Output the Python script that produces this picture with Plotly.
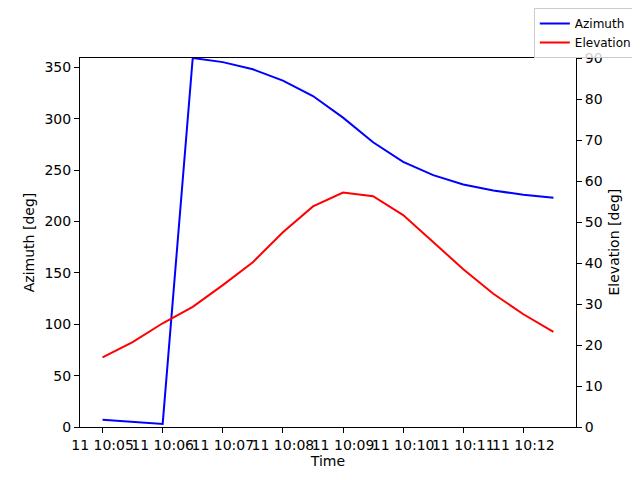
import pandas as pd
import plotly.graph_objects as go

# time samples every 30 s
times = pd.date_range("2024-01-11 10:05:00", periods=16, freq="30s")
azimuth = [7, 5, 3, 359, 355, 348, 337, 322, 301, 277, 258, 245, 236, 230, 226, 223]
elevation = [17.0, 20.7, 25.3, 29.3, 34.6, 40.2, 47.5, 53.8, 57.2, 56.3, 51.7, 45.2, 38.5, 32.5, 27.5, 23.2]

x_ticks = pd.date_range("2024-01-11 10:05:00", periods=8, freq="1min")
az_ticks = [0, 50, 100, 150, 200, 250, 300, 350]
el_ticks = [0, 10, 20, 30, 40, 50, 60, 70, 80, 90]

fig = go.Figure()
fig.add_trace(go.Scatter(x=times, y=azimuth, mode="lines", name="Azimuth",
                         line=dict(color="blue", width=2)))
fig.add_trace(go.Scatter(x=times, y=elevation, mode="lines", name="Elevation",
                         line=dict(color="red", width=2), yaxis="y2"))

axis_style = dict(showgrid=False, zeroline=False, showline=True, linecolor="black",
                  linewidth=1, ticks="outside", ticklen=5, tickcolor="black",
                  tickangle=0, tickfont=dict(size=14, color="black"))

span = times[-1] - times[0]
# page body has an 8px margin, so the figure is drawn 8px smaller
fig.update_layout(
    width=632,
    height=472,
    margin=dict(l=72, r=64, t=50, b=53, autoexpand=False),
    paper_bgcolor="white",
    plot_bgcolor="white",
    font=dict(family="DejaVu Sans", size=14, color="black"),
    xaxis=dict(
        axis_style,
        range=[times[0] - span * 0.05, times[-1] + span * 0.05],
        tickvals=x_ticks,
        tickformat="%d %H:%M",
        mirror=True,
        title=dict(text="Time", standoff=4, font=dict(size=14)),
    ),
    yaxis=dict(
        axis_style,
        range=[0, 359],
        tickvals=az_ticks,
        title=dict(text="Azimuth [deg]", standoff=6, font=dict(size=14)),
    ),
    yaxis2=dict(
        axis_style,
        range=[0, 90],
        tickvals=el_ticks,
        overlaying="y",
        side="right",
    ),
    legend=dict(
        xref="container", yref="container",
        x=0.995, y=1.0, xanchor="right", yanchor="top",
        bordercolor="#cccccc", borderwidth=1, bgcolor="rgba(255,255,255,0.8)",
        font=dict(size=12),
    ),
    showlegend=True,
)

fig.add_annotation(
    text="Elevation [deg]", xref="paper", yref="paper", x=1.0746, y=0.5,
    xanchor="center", yanchor="middle",
    textangle=-90, showarrow=False, font=dict(size=14),
)

fig.write_html("out.html")
